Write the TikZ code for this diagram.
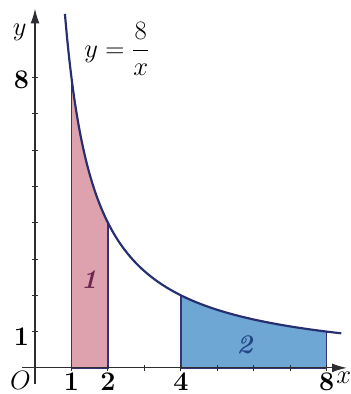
\documentclass[tikz,border=0pt]{standalone}
\usepackage{amsmath,amssymb}
\usetikzlibrary{calc,arrows.meta}

\definecolor{pinkfill}{RGB}{222,162,174}
\definecolor{bluefill}{RGB}{110,166,212}
\definecolor{curvecol}{RGB}{38,48,112}
\definecolor{edgecol}{RGB}{52,50,120}
\definecolor{axiscol}{RGB}{45,45,50}
\definecolor{onecol}{RGB}{110,40,80}
\definecolor{twocol}{RGB}{35,70,135}

\begin{document}
\begin{tikzpicture}[x=1cm,y=0.995cm,font=\fontsize{21}{25}\selectfont,
    axis/.style={axiscol,line width=0.9pt,-{Latex[length=4mm,width=2.4mm]}},
    edge/.style={edgecol,line width=1.2pt},
    lab/.style={inner sep=1pt}]
    \useasboundingbox (-0.96,-0.72) rectangle (8.66,10.14);
    \def\kk{8}
    % shaded regions under the curve
    \fill[pinkfill] (1,0) -- plot[domain=1:2,samples=30] (\x,{\kk/\x}) -- (2,0) -- cycle;
    \fill[bluefill] (4,0) -- plot[domain=4:8,samples=30] (\x,{\kk/\x}) -- (8,0) -- cycle;
    \draw[edge] (1,8) -- (1,0) -- (2,0) -- (2,4);
    \draw[edge] (4,2) -- (4,0) -- (8,0) -- (8,1);
    % axes
    \coordinate (O) at (0,0);
    \coordinate (xend) at (8.55,0);
    \coordinate (yend) at (0,9.9);
    \draw[axis] (-0.35,0) -- (xend);
    \draw[axis] (0,-0.45) -- (yend);
    \foreach \t in {1,...,8} {
        \draw[axiscol,line width=0.8pt] (\t,-0.08) -- (\t,0.08);
        \draw[axiscol,line width=0.8pt] (-0.08,\t) -- (0.08,\t);
    }
    % curve
    \draw[curvecol,line width=1.7pt] plot[domain=0.82:8.4,samples=120,smooth] (\x,{\kk/\x});
    % labels
    \node[inner sep=0pt,anchor=north] (xl) at (8.47,-0.1) {$x$};
    \node[lab] (yl) at (-0.42,9.25) {$y$};
    \node[inner sep=0pt,anchor=north] (ol) at (-0.4,-0.1) {$O$};
    \node[lab,anchor=east] (y8) at (-0.12,7.95) {\bfseries 8};
    \node[lab,anchor=east] (y1) at (-0.12,0.85) {\bfseries 1};
    \foreach \t in {1,2,4,8}
        \node[inner sep=0pt,anchor=north] (x\t) at (\t,-0.12) {\bfseries \t};
    \node[lab] (eq) at (2.25,8.8) {$y=\dfrac{8}{x}$};
    \node[lab,onecol] (r1) at (1.48,2.42) {\bfseries\itshape 1};
    \node[lab,twocol] (r2) at (5.75,0.63) {\bfseries\itshape 2};
\end{tikzpicture}
\end{document}
